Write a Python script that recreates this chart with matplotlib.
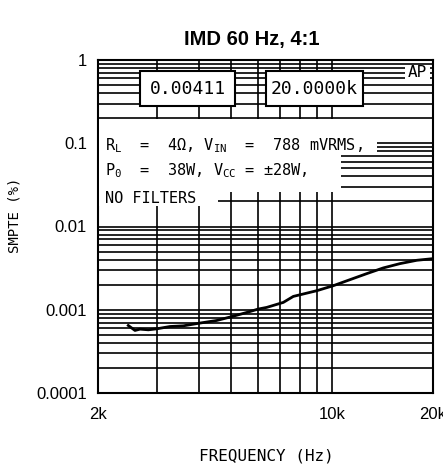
import matplotlib.pyplot as plt
import numpy as np
from matplotlib.patches import Rectangle
from matplotlib.ticker import FixedLocator, NullFormatter

# curve (Hz, % SMPTE)
freq = [2463, 2579, 2670, 2826, 2994, 3280, 3596, 4032, 4522, 4956, 5558, 6020,
        6378, 7148, 7656, 8994, 10080, 11300, 12680, 14210, 15940, 17890, 20000]
imd = [0.000647, 0.000564, 0.000585, 0.000574, 0.000590, 0.000629, 0.000641,
       0.000692, 0.000743, 0.000817, 0.000927, 0.00102, 0.001067, 0.001225,
       0.001446, 0.001693, 0.001945, 0.002297, 0.002714, 0.003180, 0.003582,
       0.003928, 0.00411]

x_ticks = [2000, 10000, 20000]
x_labels = ["2k", "10k", "20k"]
x_grid = [3000, 4000, 5000, 6000, 7000, 8000, 9000, 10000]
y_ticks = [0.0001, 0.001, 0.01, 0.1, 1]
y_labels = ["0.0001", "0.001", "0.01", "0.1", "1"]

readout_value = "0.00411"
readout_freq = "20.0000k"
cond_lines = [r"R$_\mathregular{L}$  =  4Ω, V$_\mathregular{IN}$  =  788 mVRMS,",
              r"P$_\mathregular{0}$  =  38W, V$_\mathregular{CC}$ = ±28W,",
              "NO FILTERS"]

mono = "DejaVu Sans Mono"

fig = plt.figure(figsize=(4.43, 4.66), dpi=100)
ax = fig.add_axes([98 / 443, 1 - 393 / 466, 335 / 443, 333 / 466])

ax.set_xscale("log")
ax.set_yscale("log")
ax.set_xlim(2000, 20000)
ax.set_ylim(0.0001, 1)

ax.set_xticks(x_ticks)
ax.set_xticklabels(x_labels)
ax.xaxis.set_minor_locator(FixedLocator(x_grid))
ax.xaxis.set_minor_formatter(NullFormatter())
ax.set_yticks(y_ticks)
ax.set_yticklabels(y_labels)
ax.yaxis.set_minor_locator(FixedLocator([m * 10.0 ** e for e in range(-4, 0) for m in range(2, 10)]))
ax.yaxis.set_minor_formatter(NullFormatter())

ax.grid(True, which="both", color="black", lw=1.2)
ax.tick_params(which="both", direction="in", length=0)
ax.tick_params(axis="y", pad=8, labelsize=12)
ax.tick_params(axis="x", pad=10, labelsize=12)
for lab in ax.get_xticklabels() + ax.get_yticklabels():
    lab.set_fontfamily("Liberation Sans")
for s in ax.spines.values():
    s.set_linewidth(1.5)

ax.plot(freq, imd, color="black", lw=2, zorder=5)

# white blocks behind the condition text
tr = ax.transAxes
for x0, y0, w, h in [(0.004, 0.722, 0.83, 0.101), (0.004, 0.604, 0.72, 0.12), (0.004, 0.562, 0.354, 0.043)]:
    ax.add_patch(Rectangle((x0, y0), w, h, transform=tr, facecolor="white", edgecolor="none", zorder=3))
for txt, y in zip(cond_lines, [0.730, 0.655, 0.571]):
    ax.text(0.022, y, txt, transform=tr, fontsize=11, family=mono, va="baseline", ha="left", zorder=4)

# readout boxes
for x0, w, txt in [(0.125, 0.284, readout_value), (0.501, 0.29, readout_freq)]:
    ax.add_patch(Rectangle((x0, 0.862), w, 0.105, transform=tr, facecolor="white", edgecolor="black", lw=1.5, zorder=3))
    ax.text(x0 + w / 2, 0.914, txt, transform=tr, fontsize=13, family=mono, ha="center", va="center", zorder=4)
ax.add_patch(Rectangle((0.915, 0.935), 0.075, 0.05, transform=tr, facecolor="white", edgecolor="none", zorder=3))
ax.text(0.952, 0.962, "AP", transform=tr, fontsize=11.5, family=mono, ha="center", va="center", zorder=4)

fig.text(252 / 443, 1 - 40 / 466, "IMD 60 Hz, 4:1", ha="center", va="center",
         fontsize=14.5, fontweight="bold", family="Liberation Sans")
fig.text(266 / 443, 1 - 456 / 466, "FREQUENCY (Hz)", ha="center", va="center", fontsize=11.5, family=mono)
fig.text(15 / 443, 1 - 215 / 466, "SMPTE (%)", ha="center", va="center", rotation=90, fontsize=10, family=mono)

fig.savefig("out.png", dpi=100)
